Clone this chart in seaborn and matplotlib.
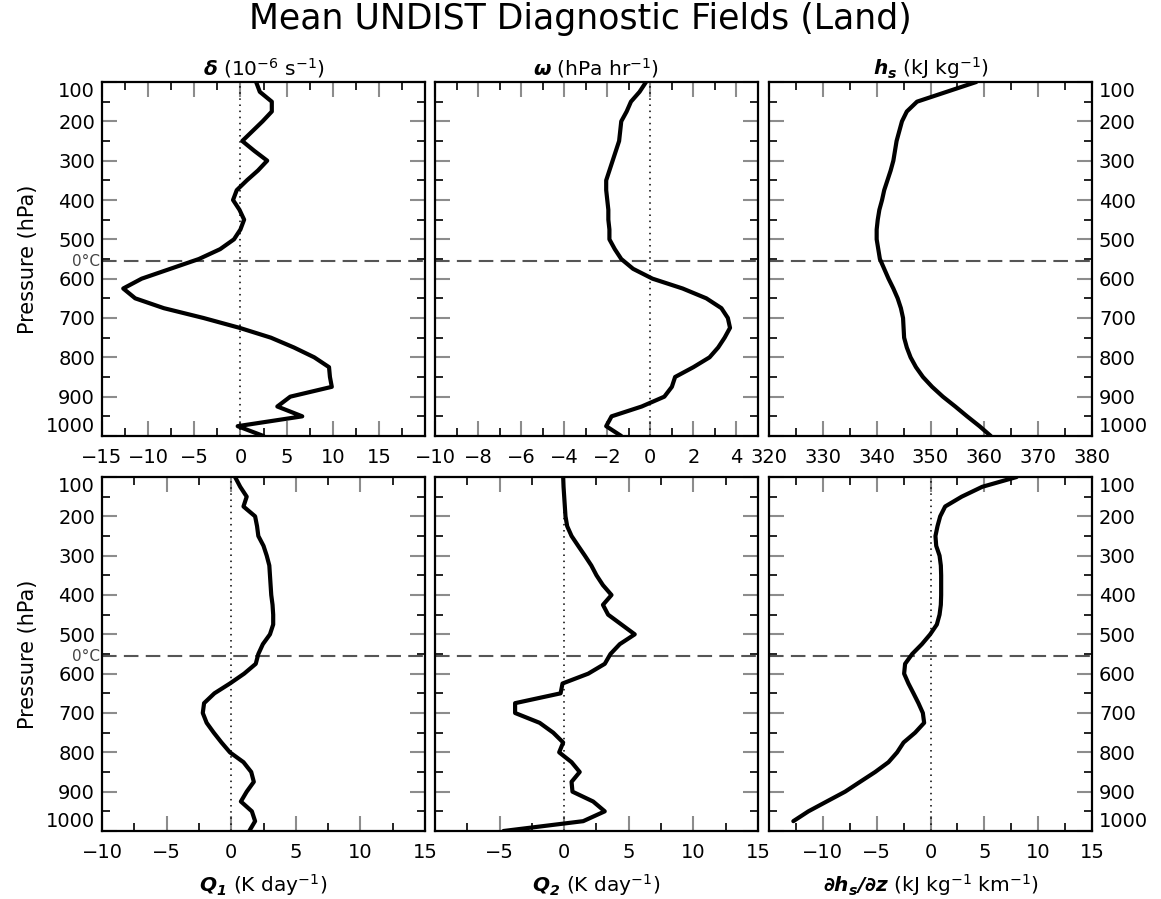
import numpy as np
import matplotlib
matplotlib.use("Agg")
import matplotlib.pyplot as plt
import seaborn as sns
from matplotlib.ticker import MultipleLocator

sns.set_theme(style="white")
plt.rcParams["font.family"] = ["DejaVu Sans"]
plt.rcParams["text.color"] = "black"
plt.rcParams["axes.labelcolor"] = "black"
plt.rcParams["xtick.color"] = "black"
plt.rcParams["ytick.color"] = "black"
plt.rcParams["mathtext.fontset"] = "custom"
plt.rcParams["mathtext.rm"] = "DejaVu Sans"
plt.rcParams["mathtext.it"] = "DejaVu Sans:italic"
plt.rcParams["mathtext.bf"] = "DejaVu Sans:italic:bold"

# ---------------- data ----------------
pressure = list(range(100, 1001, 25))  # hPa

divergence = [1.7, 2.1, 3.4, 3.4, 2.4, 1.3, 0.2, 1.5, 2.9, 1.9, 0.7, -0.4, -0.8,
              -0.1, 0.4, 0.0, -0.7, -2.2, -4.5, -7.6, -10.7, -12.7, -11.4, -8.3,
              -4.0, -0.1, 3.3, 5.8, 8.0, 9.6, 9.7, 9.9, 5.4, 4.0, 6.7, -0.3, 2.5]

omega = [-0.2, -0.5, -0.9, -1.1, -1.35, -1.4, -1.45, -1.6, -1.75, -1.9, -2.05,
         -2.05, -2.0, -1.95, -1.95, -1.9, -1.9, -1.65, -1.35, -0.8, 0.1, 1.5,
         2.6, 3.3, 3.6, 3.7, 3.45, 3.15, 2.75, 2.0, 1.15, 1.0, 0.65, -0.4, -1.8,
         -2.05, -1.35]

hs = [358.5, 353.0, 347.5, 345.6, 344.7, 344.2, 343.7, 343.4, 343.1, 342.6,
      342.0, 341.4, 341.0, 340.5, 340.2, 340.0, 340.0, 340.3, 340.6, 341.4,
      342.2, 343.1, 343.9, 344.5, 344.9, 345.0, 345.1, 345.6, 346.3, 347.3,
      348.6, 350.3, 352.3, 354.6, 356.8, 359.1, 361.2]

q1 = [0.3, 0.7, 1.2, 0.95, 1.85, 2.0, 2.1, 2.5, 2.75, 2.95, 3.0, 3.05, 3.1, 3.2,
      3.25, 3.25, 3.0, 2.45, 2.1, 1.9, 1.0, -0.1, -1.3, -2.1, -2.2, -1.9, -1.35,
      -0.75, -0.1, 0.95, 1.55, 1.75, 1.2, 0.75, 1.6, 1.85, 1.4]

q2 = [-0.08, -0.05, 0.0, 0.05, 0.1, 0.23, 0.57, 1.08, 1.6, 2.1, 2.5, 3.0, 3.66,
      3.0, 3.4, 4.43, 5.46, 4.3, 3.58, 3.14, 1.86, -0.13, -0.28, -3.8, -3.8,
      -1.9, -0.85, -0.08, -0.39, 0.57, 1.2, 0.57, 0.64, 2.24, 3.14, 1.47, -4.7]

dhsdz = [8.0, 4.8, 2.9, 1.36, 0.9, 0.65, 0.46, 0.53, 0.84, 0.96, 0.99, 0.99,
         0.99, 0.96, 0.84, 0.59, -0.03, -0.8, -1.7, -2.36, -2.45, -2.05, -1.58,
         -1.12, -0.71, -0.59, -1.43, -2.5, -3.1, -3.9, -5.14, -6.54, -7.93,
         -9.64, -11.34, -12.74, np.nan]

freezing_level = 556  # hPa, 0 degC level

top_titles = [r"$\mathbf{\delta}$ (10$^{-6}$ s$^{-1}$)",
              r"$\mathbf{\omega}$ (hPa hr$^{-1}$)",
              r"$\mathbf{h_s}$ (kJ kg$^{-1}$)"]
bottom_labels = [r"$\mathbf{Q_1}$ (K day$^{-1}$)",
                 r"$\mathbf{Q_2}$ (K day$^{-1}$)",
                 r"$\mathbf{\partial h_s/\partial z}$ (kJ kg$^{-1}$ km$^{-1}$)"]

top_xlims = [(-15, 20), (-10, 5), (320, 380)]
top_xticks = [[-15, -10, -5, 0, 5, 10, 15], [-10, -8, -6, -4, -2, 0, 2, 4],
              [320, 330, 340, 350, 360, 370, 380]]
top_minor = [2.5, 1, 5]
bottom_xlims = [(-10, 15), (-10, 15), (-15, 15)]
bottom_xticks = [[-10, -5, 0, 5, 10, 15], [-5, 0, 5, 10, 15],
                 [-10, -5, 0, 5, 10, 15]]
bottom_minor = [2.5, 2.5, 2.5]
ptick_labels = [100, 200, 300, 400, 500, 600, 700, 800, 900, 1000]

# ---------------- figure ----------------
W, H = 1161, 899
fig = plt.figure(figsize=(W / 100, H / 100), dpi=100)
fig.patch.set_facecolor("white")

col_left = [102, 435, 769]
col_w = 323
row_top = [82, 477]
row_h = 354

fig.text(0.5, 1 - 19 / H, "Mean UNDIST Diagnostic Fields (Land)",
         ha="center", va="center", fontsize=25, color="black")

rows = [
    ([divergence, omega, hs], top_titles, top_xlims, top_xticks, top_minor, [True, True, False]),
    ([q1, q2, dhsdz], bottom_labels, bottom_xlims, bottom_xticks, bottom_minor, [True, True, True]),
]

for r, (series, texts, xlims, xticks, minors, zero_flags) in enumerate(rows):
    for c in range(3):
        ax = fig.add_axes([col_left[c] / W, 1 - (row_top[r] + row_h) / H,
                           col_w / W, row_h / H])
        ax.set_facecolor("white")
        sns.lineplot(x=series[c], y=pressure, orient="y", sort=False,
                     estimator=None, color="black", linewidth=3.0, ax=ax)
        ax.set_ylim(1000, 100)
        ax.set_xlim(*xlims[c])
        ax.set_xticks(xticks[c])
        ax.xaxis.set_minor_locator(MultipleLocator(minors[c]))
        ax.set_yticks(ptick_labels)
        ax.yaxis.set_minor_locator(MultipleLocator(50))

        if zero_flags[c]:
            ax.axvline(0, color="black", linewidth=1.1, linestyle=(0, (1, 3)),
                       zorder=1)
        ax.axhline(freezing_level, color="#555555", linewidth=1.5,
                   linestyle=(0, (7, 3.5)), zorder=1)

        for s in ax.spines.values():
            s.set_visible(True)
            s.set_color("black")
            s.set_linewidth(1.6)

        ax.tick_params(axis="both", which="both", direction="in",
                       top=True, bottom=True, left=True, right=True,
                       labelsize=14, labelcolor="black")
        ax.tick_params(axis="both", which="major", length=11, width=1.5,
                       color="#8c8c8c")
        ax.tick_params(axis="both", which="minor", length=6, width=1.2,
                       color="black")
        ax.tick_params(axis="x", which="major", pad=9)
        ax.tick_params(axis="y", which="major", pad=5)

        if c == 0:
            ax.tick_params(axis="y", labelleft=True, labelright=False)
            ax.set_ylabel("Pressure (hPa)", fontsize=15, labelpad=6,
                          color="black")
            ax.text(-0.006, freezing_level, "0°C", transform=ax.get_yaxis_transform(),
                    ha="right", va="center", fontsize=11, color="#444444")
        elif c == 1:
            ax.tick_params(axis="y", labelleft=False, labelright=False)
            ax.set_ylabel("")
        else:
            ax.tick_params(axis="y", labelleft=False, labelright=True)
            ax.set_ylabel("")

        ax.set_xlabel("")
        if r == 0:
            ax.set_title(texts[c], fontsize=14.5, pad=5, color="black")
        else:
            ax.set_xlabel(texts[c], fontsize=14.5, labelpad=7, color="black")

        yt = ax.yaxis.get_major_ticks()
        yt[0].label1.set_va("top")
        yt[0].label2.set_va("top")
        yt[-1].label1.set_va("bottom")
        yt[-1].label2.set_va("bottom")

fig.savefig("out.png", dpi=100, facecolor="white")
